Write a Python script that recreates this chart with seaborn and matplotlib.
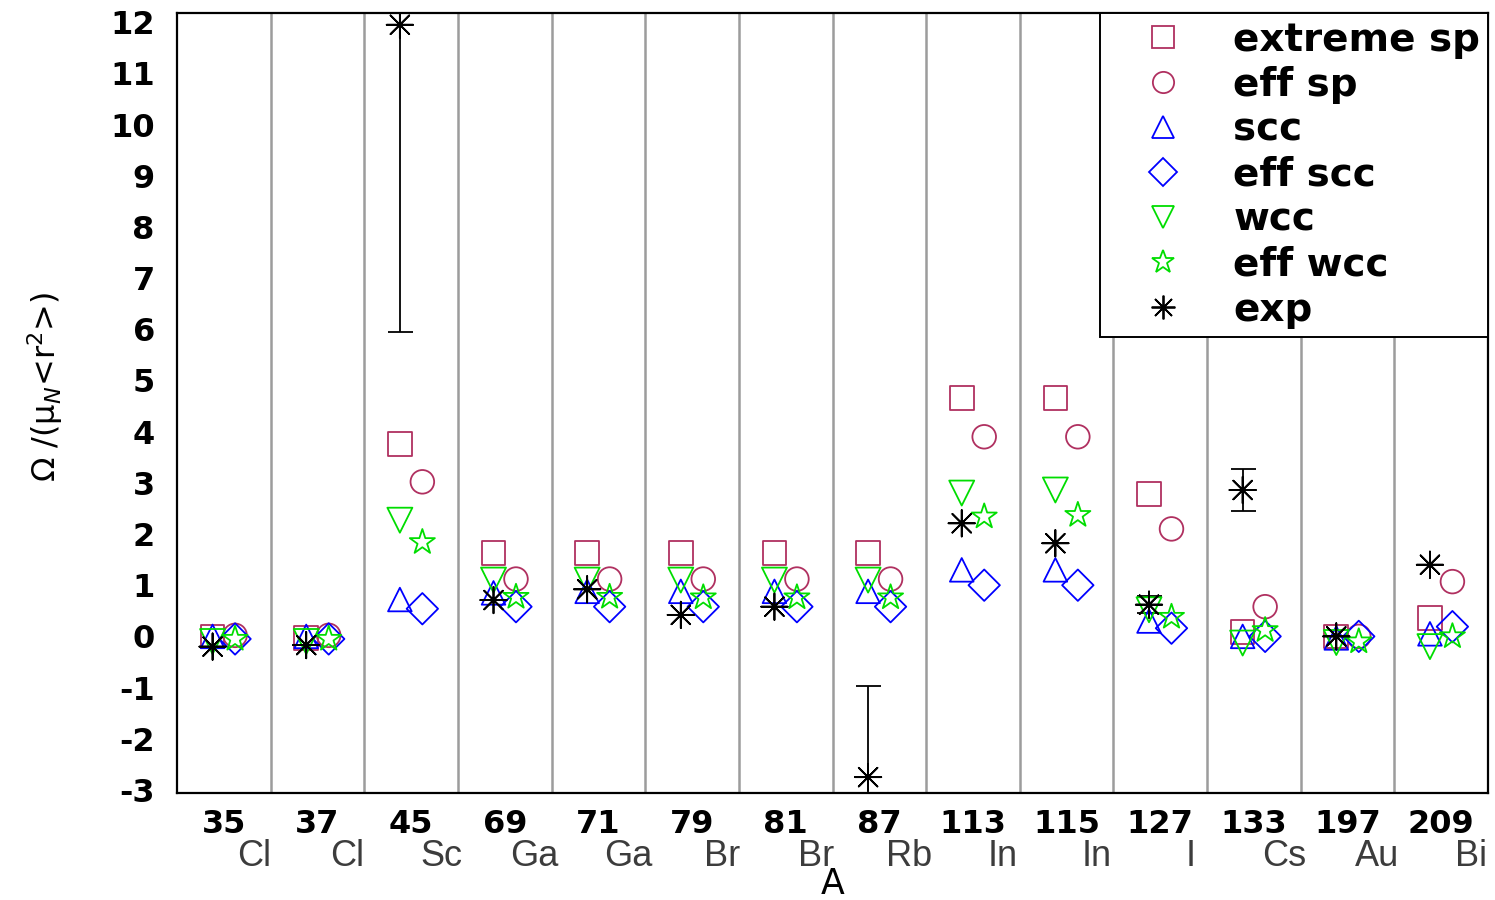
import numpy as np
import pandas as pd
import matplotlib
matplotlib.use("Agg")
import matplotlib.pyplot as plt
from matplotlib.lines import Line2D
import matplotlib.transforms as mtransforms
import seaborn as sns

# ---------------- data ----------------
mass_numbers = ["35", "37", "45", "69", "71", "79", "81", "87", "113", "115", "127", "133", "197", "209"]
elements = ["Cl", "Cl", "Sc", "Ga", "Ga", "Br", "Br", "Rb", "In", "In", "I", "Cs", "Au", "Bi"]

extreme_sp = [0.0, -0.03, 3.76, 1.63, 1.63, 1.63, 1.63, 1.63, 4.66, 4.66, 2.78, 0.09, 0.0, 0.36]
eff_sp = [0.02, 0.02, 3.02, 1.12, 1.12, 1.12, 1.12, 1.12, 3.90, 3.90, 2.10, 0.58, 0.0, 1.07]
scc = [0.0, 0.0, 0.72, 0.85, 0.88, 0.88, 0.88, 0.88, 1.30, 1.30, 0.30, 0.0, -0.03, 0.05]
eff_scc = [-0.05, -0.05, 0.54, 0.58, 0.58, 0.58, 0.58, 0.58, 1.00, 1.00, 0.16, 0.0, 0.0, 0.19]
wcc = [-0.10, -0.10, 2.27, 1.10, 1.10, 1.10, 1.10, 1.10, 2.80, 2.86, 0.52, -0.13, -0.12, -0.20]
eff_wcc = [-0.05, -0.05, 1.84, 0.77, 0.77, 0.76, 0.76, 0.76, 2.34, 2.37, 0.38, 0.12, -0.10, 0.0]
exp_val = [-0.20, -0.17, 11.95, 0.71, 0.92, 0.42, 0.58, -2.75, 2.21, 1.82, 0.62, 2.86, 0.0, 1.40]
exp_err = [0, 0, 6.0, 0, 0, 0, 0, 1.79, 0, 0, 0.16, 0.41, 0, 0]

series_names = ["extreme sp", "eff sp", "scc", "eff scc", "wcc", "eff wcc", "exp"]
series_values = [extreme_sp, eff_sp, scc, eff_scc, wcc, eff_wcc, exp_val]
series_side = [-1, 1, -1, 1, -1, 1, -1]

maroon = "#B03060"
series_colors = [maroon, maroon, "#0000FF", "#0000FF", "#00DD00", "#00DD00", "black"]
asterisk = (8, 2, 0)
series_markers = ["s", "o", "^", "D", "v", "*", asterisk]
series_sizes = [17, 17, 17, 16, 18, 19, 19]

# ---------------- figure ----------------
sns.set_theme(style="white")
plt.rcParams["font.family"] = ["DejaVu Sans"]
plt.rcParams["mathtext.fontset"] = "dejavusans"
plt.rcParams["text.color"] = "black"
plt.rcParams["xtick.color"] = "black"
plt.rcParams["ytick.color"] = "black"

fig = plt.figure(figsize=(14.95, 9.0), dpi=100)
ax = fig.add_axes([177 / 1495, 1 - 793 / 900, (1488 - 177) / 1495, (793 - 13) / 900])

n = len(mass_numbers)
idx = np.arange(n)
offset = 0.12

rows = []
for name, vals, side in zip(series_names, series_values, series_side):
    for i, v in enumerate(vals):
        rows.append({"series": name, "x": i + side * offset, "y": v})
df = pd.DataFrame(rows)

# separators
for b in np.arange(1, n):
    ax.axvline(b - 0.5, color="#9c9c9c", lw=1.8, zorder=0)

# error bars of experiment
err = np.array(exp_err)
mask = err > 0
ax.errorbar(idx[mask] - offset, np.array(exp_val)[mask], yerr=err[mask], fmt="none",
            ecolor="black", elinewidth=1.3, capsize=9, capthick=1.3, zorder=3)

for name, col, mk, ms in zip(series_names, series_colors, series_markers, series_sizes):
    sub = df[df["series"] == name]
    sns.scatterplot(data=sub, x="x", y="y", marker=mk, s=ms ** 2, ax=ax,
                    color=col, linewidth=1.3, zorder=4, legend=False)
    coll = ax.collections[-1]
    coll.set_facecolor("none")
    coll.set_edgecolor(col)
    coll.set_linewidth(1.3)

ax.set_xlim(-0.5, n - 0.5)
ax.set_ylim(-3.06, 12.18)
ax.set_yticks(np.arange(-3, 13, 1))
ax.set_yticklabels([str(v) for v in range(-3, 13)], fontsize=23, fontweight="bold", color="black")
ax.tick_params(axis="y", length=0, pad=16)
ax.set_xticks([])
ax.set_xlabel("")
ax.set_ylabel("")

for sp in ax.spines.values():
    sp.set_color("black")
    sp.set_linewidth(1.6)

trans = mtransforms.blended_transform_factory(ax.transData, ax.transAxes)
for i, (m, e) in enumerate(zip(mass_numbers, elements)):
    ax.text(i, -0.041, m, transform=trans, ha="center", va="center",
            fontsize=23, fontweight="bold", color="black")
    ax.text(i + 0.32, -0.081, e, transform=trans, ha="center", va="center",
            fontsize=26, color="#3c3c3c", family=["Liberation Sans Narrow", "Liberation Sans", "DejaVu Sans"])

ax.text(0.5, -0.1295, "A", transform=ax.transAxes, ha="center", va="baseline", fontsize=25, color="black")
ax.text(-0.1007, 0.52, "Ω /(μ$_N$<r$^2$>)", transform=ax.transAxes, rotation=90,
        ha="center", va="center", fontsize=23, color="black")

handles = [Line2D([], [], linestyle="none", marker=mk, markersize=ms * 0.9, markerfacecolor="none",
                  markeredgecolor=col, markeredgewidth=1.3)
           for col, mk, ms in zip(series_colors, series_markers, series_sizes)]
leg = ax.legend(handles, series_names, loc="upper right", bbox_to_anchor=(1, 1),
                borderaxespad=0, prop={"size": 28, "weight": "bold"}, frameon=True,
                fancybox=False, borderpad=0.2, handlelength=2.84, handletextpad=0.38,
                labelspacing=0.18, framealpha=1)
for t in leg.get_texts():
    t.set_color("black")
leg.get_frame().set_edgecolor("black")
leg.get_frame().set_linewidth(1.4)
leg.set_zorder(10)

fig.savefig("out.png", dpi=100)
